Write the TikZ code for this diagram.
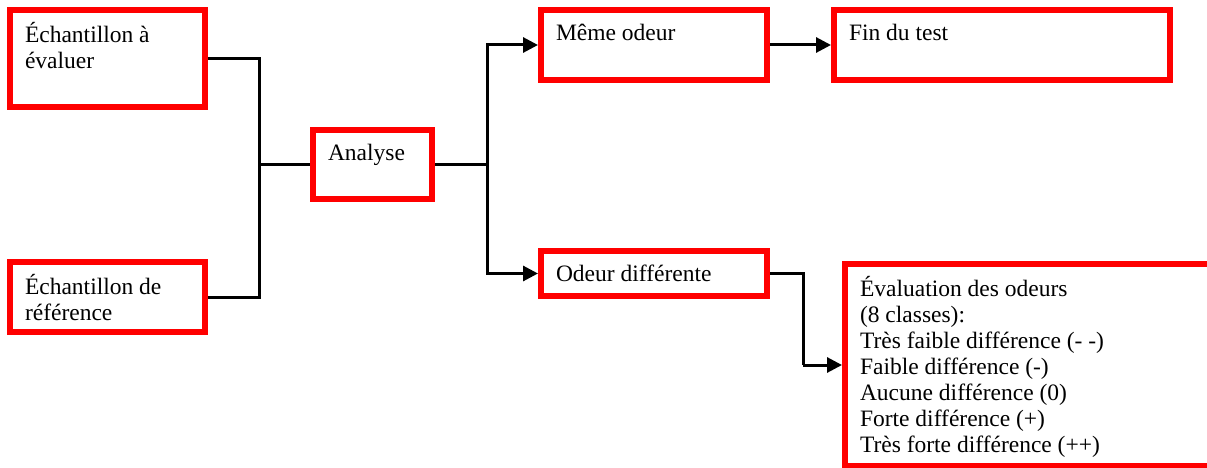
\documentclass[tikz,border=0pt]{standalone}
\usepackage{fontspec}
\setmainfont{Liberation Serif}
\usetikzlibrary{arrows.meta}

\begin{document}
\begin{tikzpicture}[x=1pt,y=-1pt,
        redbox/.style={draw=red, line width=6pt, inner xsep=15pt, inner ysep=12pt, anchor=north west, font=\fontsize{23.5}{26}\selectfont},
        link/.style={line width=3pt},
        arrowlink/.style={link, -{Triangle[length=15pt,width=15pt]}}]
    \newcommand\boxtext[3]{% {<width>}{<height>}{<text>}
        \parbox[c][#2pt][t]{#1pt}{\raggedright\strut #3}}
    \useasboundingbox (0,0) rectangle (1207,468);

    % boxes (placed by their outer corner)
    \node[redbox] (sample) at (7,7) {\boxtext{165}{73}{Échantillon à\\évaluer}};
    \node[redbox] (reference) at (7,259) {\boxtext{165}{46}{Échantillon de\\référence}};
    \node[redbox] (analysis) at (310,127) {\boxtext{89}{45}{Analyse}};
    \node[redbox] (same) at (538,7) {\boxtext{196}{46}{Même odeur}};
    \node[redbox] (end) at (831,7) {\boxtext{306}{46}{Fin du test}};
    \node[redbox] (different) at (538,248) {\boxtext{196}{21}{Odeur différente}};
    \node[redbox] (rating) at (842,261) {\boxtext{340}{178}{Évaluation des odeurs\\(8 classes):\\Très faible différence (- -)\\Faible différence (-)\\Aucune différence (0)\\Forte différence (+)\\Très forte différence (++)}};

    % connectors
    \coordinate (joinA) at (259,164.5);
    \coordinate (joinB) at (487,164.5);
    \coordinate (joinC) at (803,365);
    \draw[link] (sample.east) -| (joinA);
    \draw[link] (reference.east) -| (joinA);
    \draw[link] (joinA) -- (analysis.west);
    \draw[link] (analysis.east) -- (joinB);
    \draw[arrowlink] (joinB) |- (same.west);
    \draw[arrowlink] (joinB) |- (different.west);
    \draw[arrowlink] (same.east) -- (end.west);
    \draw[link] (different.east) -| (joinC);
    \draw[arrowlink] (joinC) -- (rating.west);
\end{tikzpicture}
\end{document}
